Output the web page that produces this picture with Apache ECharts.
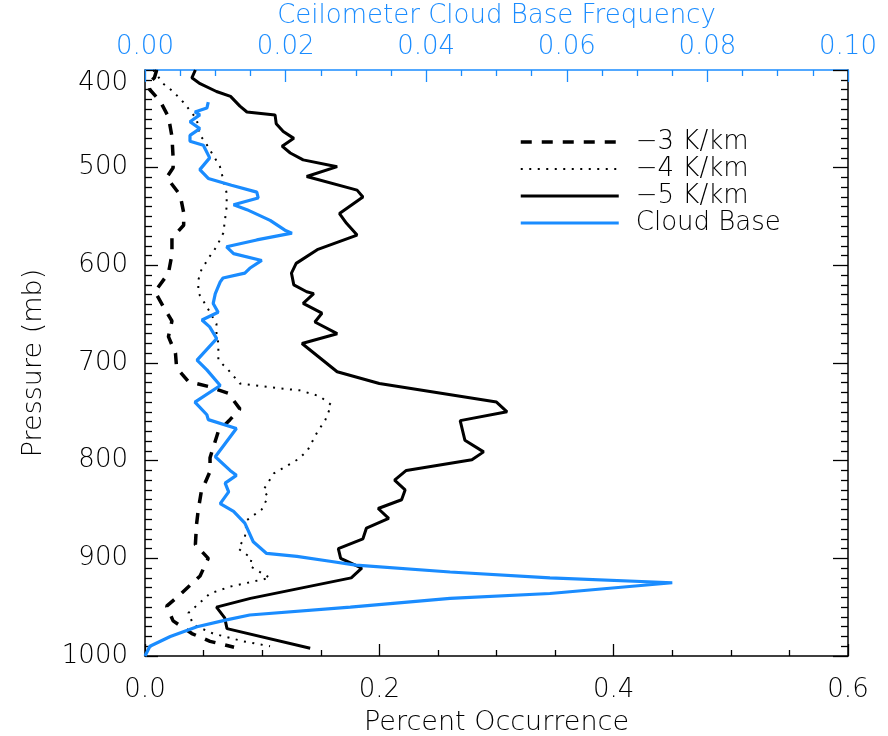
<!DOCTYPE html>
<html>
<head>
<meta charset="utf-8">
<title>Lapse rate and cloud base profiles</title>
<script src="https://cdn.jsdelivr.net/npm/echarts@6/dist/echarts.min.js"></script>
<style>
  html, body { margin: 0; padding: 0; background: #fff; }
  #chart { width: 888px; height: 736px; }
</style>
</head>
<body>
<div id="chart"></div>
<script>
// Percent occurrence of layers with a given lapse rate, by pressure level
const lapse3Pressure = [400, 408, 414, 420, 432, 448, 468, 490, 500, 510, 528, 546, 559, 572, 589, 608, 627, 643, 657, 673, 690, 705, 719, 724, 731, 747, 758, 770, 797, 811, 832, 850, 865, 886, 900, 918, 936, 949, 964, 977, 985, 991];
const lapse3Percent  = [0.010, 0.008, 0.003, 0.004, 0.013, 0.020, 0.023, 0.024, 0.024, 0.0185, 0.030, 0.033, 0.033, 0.023, 0.023, 0.020, 0.0085, 0.016, 0.023, 0.020, 0.026, 0.027, 0.037, 0.054, 0.071, 0.081, 0.0725, 0.0626, 0.0555, 0.0555, 0.048, 0.0455, 0.044, 0.043, 0.054, 0.047, 0.031, 0.0185, 0.024, 0.040, 0.0555, 0.076];

const lapse4Pressure = [400, 414, 422, 433, 450, 467, 473, 499, 526, 540, 567, 581, 593, 605, 615, 628, 642, 660, 669, 680, 697, 707, 721, 724, 726, 728, 734, 743, 758, 772, 790, 799, 813, 830, 837, 850, 861, 878, 890, 900, 908, 920, 929, 936, 956, 968, 977, 985, 990];
const lapse4Percent  = [0.007, 0.0156, 0.024, 0.0327, 0.044, 0.047, 0.051, 0.064, 0.0697, 0.0697, 0.0668, 0.061, 0.054, 0.048, 0.0455, 0.0455, 0.0526, 0.061, 0.061, 0.0626, 0.0626, 0.071, 0.081, 0.101, 0.115, 0.132, 0.149, 0.159, 0.154, 0.1465, 0.1385, 0.130, 0.110, 0.101, 0.105, 0.0996, 0.0868, 0.0853, 0.0796, 0.091, 0.0896, 0.1067, 0.0725, 0.0555, 0.037, 0.0413, 0.058, 0.084, 0.1067];

const lapse5Pressure = [400, 408, 414, 422, 427, 437, 443, 446, 455, 463, 470, 478, 485, 492, 499, 509, 523, 530, 547, 557, 569, 584, 598, 608, 620, 627, 629, 639, 649, 658, 670, 680, 709, 721, 740, 750, 759, 779, 791, 799, 810, 820, 830, 840, 849, 859, 869, 880, 890, 900, 910, 920, 941, 950, 961, 972, 992];
const lapse5Percent  = [0.043, 0.040, 0.047, 0.061, 0.073, 0.081, 0.087, 0.111, 0.112, 0.118, 0.127, 0.117, 0.124, 0.135, 0.164, 0.138, 0.181, 0.186, 0.166, 0.172, 0.181, 0.147, 0.129, 0.125, 0.127, 0.138, 0.144, 0.135, 0.151, 0.145, 0.164, 0.134, 0.164, 0.200, 0.300, 0.309, 0.269, 0.273, 0.289, 0.279, 0.223, 0.213, 0.222, 0.219, 0.199, 0.208, 0.189, 0.186, 0.165, 0.167, 0.185, 0.176, 0.090, 0.061, 0.068, 0.070, 0.141];

// Ceilometer cloud base frequency, by pressure level
const cloudPressure = [433, 439, 443, 446, 453, 460, 467, 473, 477, 490, 502, 511, 518, 525, 531, 538, 543, 554, 564, 567, 574, 581, 588, 595, 603, 608, 613, 617, 629, 639, 648, 656, 663, 675, 697, 707, 723, 740, 753, 758, 767, 796, 810, 815, 823, 832, 844, 852, 864, 883, 895, 898, 903, 907, 914, 920, 925, 936, 941, 950, 958, 963, 970, 980, 990, 1000];
const cloudFreq      = [0.0090, 0.0088, 0.0071, 0.0078, 0.0064, 0.0078, 0.0064, 0.0064, 0.0083, 0.0092, 0.0078, 0.0090, 0.0123, 0.0159, 0.0161, 0.0126, 0.0145, 0.0178, 0.0199, 0.0209, 0.0159, 0.0116, 0.0126, 0.0166, 0.0149, 0.0142, 0.0111, 0.0107, 0.0100, 0.0097, 0.0104, 0.0081, 0.0092, 0.0102, 0.0074, 0.0088, 0.0107, 0.0071, 0.0088, 0.0090, 0.0130, 0.0100, 0.0121, 0.0130, 0.0114, 0.0119, 0.0107, 0.0126, 0.0142, 0.0154, 0.0173, 0.0216, 0.0263, 0.0300, 0.0434, 0.0576, 0.0750, 0.0576, 0.0434, 0.0292, 0.0149, 0.0116, 0.0074, 0.0036, 0.0007, 0.0];

const seriesNames = ['\u22123 K/km', '\u22124 K/km', '\u22125 K/km', 'Cloud Base'];
const bottomAxisTitle = 'Percent Occurrence';
const topAxisTitle = 'Ceilometer Cloud Base Frequency';
const leftAxisTitle = 'Pressure (mb)';

const BLUE = '#1a8cff';
const FONT = 'DejaVu Sans';
const FW = 200;

// Line styles shared by the series and their legend entries
const styles = [
  { color: '#000', width: 3.5, type: [11, 10], cap: 'butt' },
  { color: '#000', width: 2, type: [2, 6.5], cap: 'butt' },
  { color: '#000', width: 3, type: 'solid' },
  { color: BLUE, width: 3.2, type: 'solid' }
];

function pairs(xs, ps) {
  return xs.map((x, i) => [x, ps[i]]);
}

const chart = echarts.init(document.getElementById('chart'), null, { renderer: 'canvas' });

const textBase = { fontFamily: FONT, fontWeight: FW, color: '#000' };

chart.setOption({
  animation: false,
  backgroundColor: '#fff',
  grid: { left: 145, right: 40, top: 70, bottom: 80, containLabel: false, outerBoundsMode: 'none' },
  legend: {
    orient: 'vertical',
    left: 519,
    top: 129,
    padding: 0,
    itemWidth: 98,
    itemHeight: 14,
    itemGap: 1,
    itemStyle: { opacity: 0 },
    textStyle: Object.assign({}, textBase, { fontSize: 26, padding: [0, 0, 0, 12], lineHeight: 26, height: 26 }),
    data: seriesNames.map((n, i) => ({ name: n, lineStyle: styles[i] }))
  },
  xAxis: [
    {
      type: 'value', position: 'bottom', min: 0, max: 0.6, interval: 0.2,
      axisLine: { show: true, onZero: false, lineStyle: { color: '#000', width: 1.5 } },
      axisTick: { inside: true, length: 12, lineStyle: { color: '#000', width: 1.3 } },
      minorTick: { show: true, splitNumber: 4, length: 6, lineStyle: { color: '#000', width: 1.3 } },
      splitLine: { show: false },
      axisLabel: Object.assign({ formatter: v => v.toFixed(1), fontSize: 26, margin: 21 }, textBase),
      name: bottomAxisTitle, nameLocation: 'middle', nameGap: 53,
      nameTextStyle: Object.assign({ fontSize: 27 }, textBase)
    },
    {
      type: 'value', position: 'top', min: 0, max: 0.1, interval: 0.02,
      axisLine: { show: true, onZero: false, lineStyle: { color: BLUE, width: 1.5 } },
      axisTick: { inside: true, length: 12, lineStyle: { color: BLUE, width: 1.3 } },
      minorTick: { show: true, splitNumber: 4, length: 6, lineStyle: { color: BLUE, width: 1.3 } },
      splitLine: { show: false },
      axisLabel: Object.assign({}, textBase, { formatter: v => v.toFixed(2), fontSize: 26, color: BLUE, margin: 10 }),
      name: topAxisTitle, nameLocation: 'middle', nameGap: 35,
      nameTextStyle: Object.assign({}, textBase, { fontSize: 26, color: BLUE })
    }
  ],
  yAxis: [
    {
      type: 'value', position: 'left', inverse: true, min: 400, max: 1000, interval: 100,
      axisLine: { show: true, onZero: false, lineStyle: { color: '#000', width: 1.5 } },
      axisTick: { inside: true, length: 13, lineStyle: { color: '#000', width: 1.3 } },
      minorTick: { show: true, splitNumber: 10, length: 7, lineStyle: { color: '#000', width: 1.3 } },
      splitLine: { show: false },
      axisLabel: Object.assign({
        formatter: v => String(v), fontSize: 26, margin: 17,
        verticalAlignMinLabel: 'top', verticalAlignMaxLabel: 'middle'
      }, textBase),
      name: leftAxisTitle, nameLocation: 'middle', nameGap: 98, nameRotate: 90,
      nameTextStyle: Object.assign({ fontSize: 27 }, textBase)
    },
    {
      type: 'value', position: 'right', inverse: true, min: 400, max: 1000, interval: 100,
      axisLine: { show: true, onZero: false, lineStyle: { color: '#000', width: 1.5 } },
      axisTick: { inside: true, length: 15, lineStyle: { color: '#000', width: 1.3 } },
      minorTick: { show: true, splitNumber: 10, length: 7, lineStyle: { color: '#000', width: 1.3 } },
      splitLine: { show: false },
      axisLabel: { show: false }
    }
  ],
  series: [
    {
      name: seriesNames[0], type: 'line', xAxisIndex: 0, yAxisIndex: 0,
      data: pairs(lapse3Percent, lapse3Pressure),
      symbol: 'none', smooth: false, lineStyle: styles[0],
      itemStyle: { color: '#000' }, z: 3
    },
    {
      name: seriesNames[1], type: 'line', xAxisIndex: 0, yAxisIndex: 0,
      data: pairs(lapse4Percent, lapse4Pressure),
      symbol: 'none', smooth: false, lineStyle: styles[1],
      itemStyle: { color: '#000' }, z: 3
    },
    {
      name: seriesNames[2], type: 'line', xAxisIndex: 0, yAxisIndex: 0,
      data: pairs(lapse5Percent, lapse5Pressure),
      symbol: 'none', smooth: false, lineStyle: styles[2],
      itemStyle: { color: '#000' }, z: 3
    },
    {
      name: seriesNames[3], type: 'line', xAxisIndex: 1, yAxisIndex: 0,
      data: pairs(cloudFreq, cloudPressure),
      symbol: 'none', smooth: false, lineStyle: styles[3],
      itemStyle: { color: BLUE }, z: 4
    }
  ]
});
</script>
</body>
</html>
